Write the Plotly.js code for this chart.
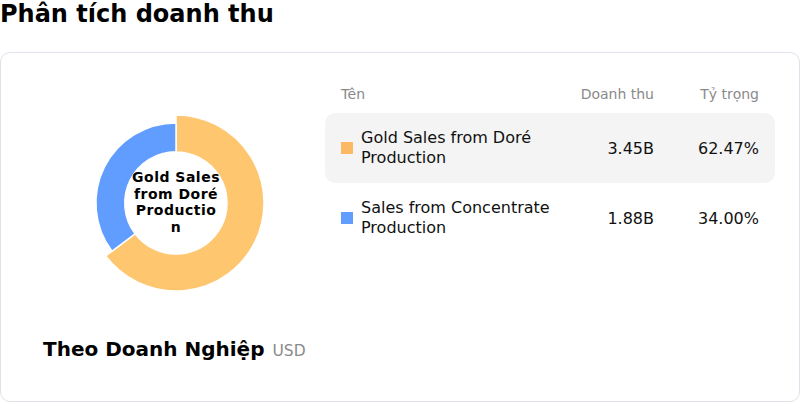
<!DOCTYPE html>
<html>
<head>
<meta charset="utf-8">
<script src="https://cdn.plot.ly/plotly-3.0.1.min.js"></script>
<style>
  body { margin: 0; width: 800px; height: 402px; background: #fff; font-family: "DejaVu Sans", sans-serif; position: relative; overflow: hidden; }
  #tieuDe { position: absolute; left: 0; top: 0; font-size: 24px; font-weight: bold; color: #000; }
  #the { position: absolute; left: 0; top: 52px; width: 798px; height: 348px; border: 1px solid #e2e0ea; border-radius: 10px; }
  #donut { position: absolute; left: 76px; top: 103px; width: 200px; height: 200px; }
  #giua { position: absolute; left: 126px; top: 169px; width: 100px; text-align: center; font-size: 14px; line-height: 16.5px; letter-spacing: 0.5px; font-weight: bold; color: #000; pointer-events: none; }
  #nhan { position: absolute; left: 43px; top: 337px; font-size: 20px; font-weight: bold; color: #000; }
  #nhan span { font-size: 15.5px; font-weight: normal; color: #8a8a8a; margin-left: 8px; }
  .hdr { position: absolute; top: 86px; font-size: 14px; color: #8a8a8a; }
  .dong { position: absolute; left: 325px; width: 450px; height: 70px; border-radius: 10px; }
  .o { position: absolute; left: 16px; width: 12px; height: 12px; }
  .ten { position: absolute; left: 36px; font-size: 16px; line-height: 20px; color: #111; }
  .so { position: absolute; font-size: 16px; color: #111; text-align: right; }
</style>
</head>
<body>
<div id="tieuDe">Phân tích doanh thu</div>
<div id="the"></div>
<div id="donut"></div>
<div id="giua"></div>
<div id="nhan">Theo Doanh Nghiệp<span>USD</span></div>
<div class="hdr" style="left:341px">Tên</div>
<div class="hdr" style="right:146px">Doanh thu</div>
<div class="hdr" style="right:41px">Tỷ trọng</div>
<div id="bang"></div>
<script>
const tenMuc = ["Gold Sales from Doré Production", "Sales from Concentrate Production"];
const tenHaiDong = [["Gold Sales from Doré", "Production"], ["Sales from Concentrate", "Production"]];
const doanhThu = [3.45, 1.88];          // tỷ USD
const tyTrong = [62.47, 34.00];         // %
const mauMuc = ["#FFC670", "#619CFF"];
const mauO = ["#FDB863", "#619CFF"];
const dongGiua = ["Gold Sales", "from Doré", "Productio", "n"];

// chữ giữa vòng (dòng sát nhau như bản gốc)
document.getElementById("giua").innerHTML = dongGiua.join("<br>");

// bảng bên phải
const bang = document.getElementById("bang");
tenMuc.forEach(function (ten, i) {
    const top = 113 + i * 70;
    const d = document.createElement("div");
    d.className = "dong";
    d.style.top = top + "px";
    if (i === 0) d.style.background = "#f4f4f4";
    d.innerHTML =
        '<div class="o" style="top:29px;background:' + mauO[i] + '"></div>' +
        '<div class="ten" style="top:15px">' + tenHaiDong[i].join("<br>") + '</div>' +
        '<div class="so" style="right:121px;top:26px">' + doanhThu[i].toFixed(2) + 'B</div>' +
        '<div class="so" style="right:16px;top:26px">' + tyTrong[i].toFixed(2) + '%</div>';
    bang.appendChild(d);
});

// lát đang chọn (vàng) to hơn lát còn lại -> vẽ 2 vòng chồng nhau
const trongSuot = "rgba(0,0,0,0)";
const vongLon = {
    type: "pie",
    labels: tenMuc,
    values: doanhThu,
    hole: 0.58,
    sort: false,
    direction: "clockwise",
    rotation: 0,
    marker: { colors: [mauMuc[0], trongSuot], line: { color: "#fff", width: [1.5, 0] } },
    textinfo: "none",
    domain: { x: [0, 1], y: [0, 1] }
};
const vongNho = {
    type: "pie",
    labels: tenMuc,
    values: doanhThu,
    hole: 0.64,
    sort: false,
    direction: "clockwise",
    rotation: 0,
    marker: { colors: [trongSuot, mauMuc[1]], line: { color: "#fff", width: [0, 1.5] } },
    textinfo: "none",
    domain: { x: [0.045, 0.955], y: [0.045, 0.955] }
};

const layout = {
    width: 200,
    height: 200,
    margin: { l: 12, r: 12, t: 12, b: 12 },
    showlegend: false,
    paper_bgcolor: "rgba(0,0,0,0)",
    font: { family: "DejaVu Sans", color: "#000" }
};

Plotly.newPlot("donut", [vongLon, vongNho], layout, { displayModeBar: false, staticPlot: true });
</script>
</body>
</html>
